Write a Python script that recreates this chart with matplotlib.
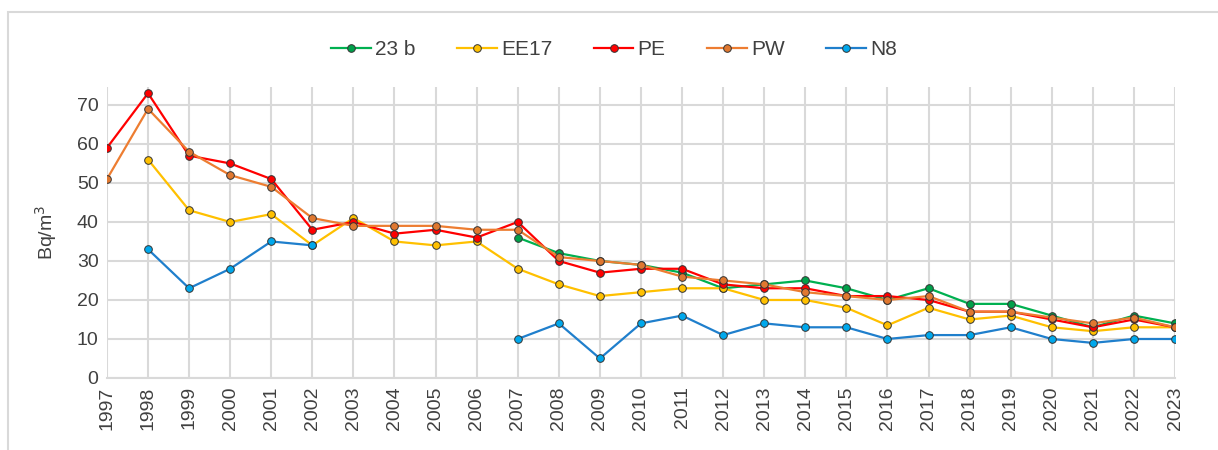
import matplotlib.pyplot as plt
import matplotlib.patches as patches
import numpy as np

plt.rcParams['font.family'] = ['Liberation Sans', 'DejaVu Sans']

nan = np.nan
years = list(range(1997, 2024))

s23b = [nan]*10 + [36, 32, 30, 29, 27, 23, 24, 25, 23, 20, 23, 19, 19, 16, 13, 16, 14]
ee17 = [nan, 56, 43, 40, 42, 34, 41, 35, 34, 35, 28, 24, 21, 22, 23, 23, 20, 20, 18, 13.5, 18, 15, 16, 13, 12, 13, 13]
pe = [59, 73, 57, 55, 51, 38, 40, 37, 38, 36, 40, 30, 27, 28, 28, 24, 23, 23, 21, 21, 20, 17, 17, 15, 13, 15, 13]
pw = [51, 69, 58, 52, 49, 41, 39, 39, 39, 38, 38, 31, 30, 29, 26, 25, 24, 22, 21, 20, 21, 17, 17, 15.5, 14, 15.5, 13]
n8 = [nan, 33, 23, 28, 35, 34, nan, nan, nan, nan, 10, 14, 5, 14, 16, 11, 14, 13, 13, 10, 11, 11, 13, 10, 9, 10, 10]

series = [
    ("23 b", s23b, "#00b050", "#00a04a"),
    ("EE17", ee17, "#ffc000", "#ffc000"),
    ("PE", pe, "#ff0000", "#ff0000"),
    ("PW", pw, "#ed7d31", "#e07830"),
    ("N8", n8, "#1f7fcc", "#00a8ec"),
]

fig = plt.figure(figsize=(12.18, 4.5), dpi=100)
ax = fig.add_axes([0.0878, 0.16, 0.8769, 0.6467])

# chart border like the spreadsheet frame
fig.patches.append(patches.Rectangle((8/1218, -0.1), 1.2, 1 - 12/450 + 0.1,
                                     transform=fig.transFigure, fill=False,
                                     edgecolor="#d9d9d9", linewidth=1.5))

for name, vals, lc, mc in series:
    ax.plot(years, vals, color=lc, linewidth=1.6, marker="o", markersize=5.5,
            markerfacecolor=mc, markeredgecolor="#333333", markeredgewidth=0.7,
            label=name)

ax.set_xlim(1997, 2023)
ax.set_ylim(0, 74.6)
ax.set_xticks(years)
ax.set_xticklabels([str(y) for y in years], rotation=90)
ax.set_yticks(range(0, 71, 10))
ax.grid(True, color="#d9d9d9", linewidth=1.5)
ax.set_axisbelow(True)
for side in ["top", "right", "left"]:
    ax.spines[side].set_visible(False)
ax.spines["bottom"].set_color("#d9d9d9")
ax.spines["bottom"].set_linewidth(1.5)
ax.tick_params(length=0, labelsize=14, colors="#404040", pad=6)
ax.set_ylabel("Bq/m$^3$", fontsize=14, color="#404040", labelpad=13)

ax.legend(loc="center", bbox_to_anchor=(0.475, 1.128), ncol=5, frameon=False,
          fontsize=15, handlelength=1.9, columnspacing=2.0, handletextpad=0.2,
          labelcolor="#404040")

fig.savefig("out.png", dpi=100)
